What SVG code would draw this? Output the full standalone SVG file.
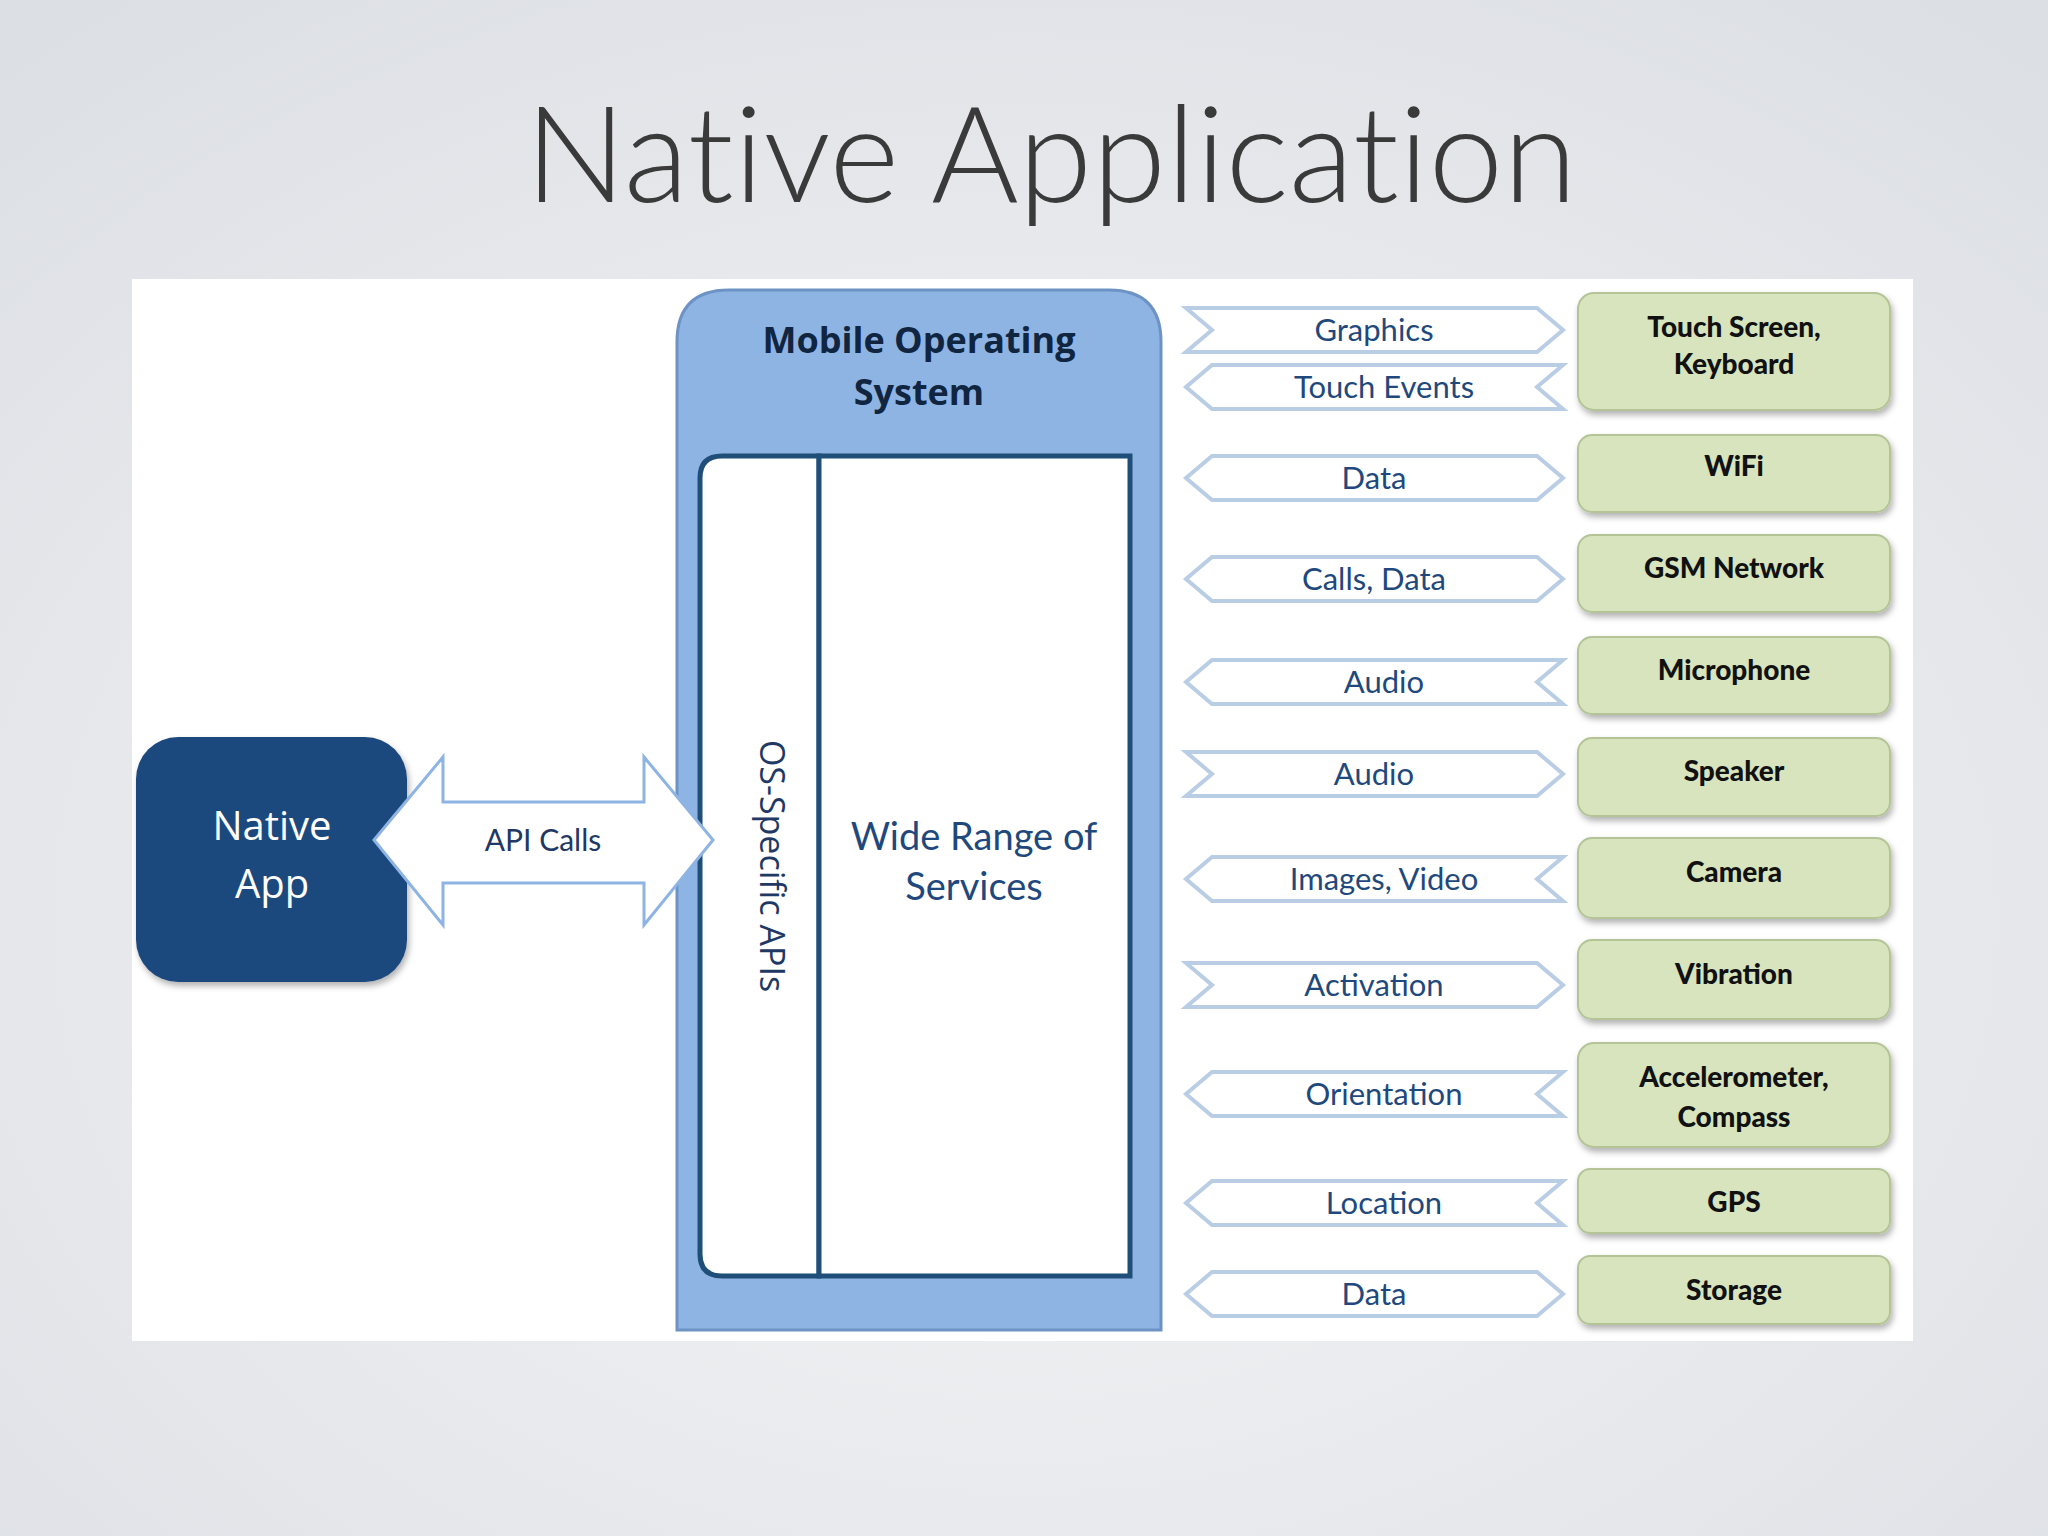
<svg xmlns="http://www.w3.org/2000/svg" xmlns:xlink="http://www.w3.org/1999/xlink" width="2048" height="1536" viewBox="0 0 2048 1536">
<defs>
<radialGradient id="bg" cx="50%" cy="60%" r="75%"><stop offset="0" stop-color="#f6f6f7"/><stop offset="1" stop-color="#dcdfe4"/></radialGradient>
<polygon id="ar" points="1186,-22 1537,-22 1563,0 1537,22 1186,22 1212,0"/>
<polygon id="al" points="1212,-22 1563,-22 1537,0 1563,22 1212,22 1186,0"/>
<polygon id="ad" points="1212,-22 1537,-22 1563,0 1537,22 1212,22 1186,0"/>
<filter id="sh" x="-10%" y="-10%" width="120%" height="130%"><feDropShadow dx="2" dy="4" stdDeviation="3" flood-color="#000" flood-opacity="0.3"/></filter>
</defs>
<style>
.lbl{font-family:Lato,"Open Sans",sans-serif;font-size:31px;fill:#1f497d;text-anchor:middle}
.arr{fill:#fff;stroke:#b9cde5;stroke-width:4}
.g{fill:#d7e4bd;stroke:#b4c497;stroke-width:2;filter:url(#sh)}
.gt{font-family:Lato,"Open Sans",sans-serif;font-weight:900;font-size:28px;fill:#111;text-anchor:middle}
</style>
<rect width="2048" height="1536" fill="url(#bg)"/>
<text x="1051" y="202" text-anchor="middle" font-family="Lato,'Open Sans',sans-serif" font-weight="300" font-size="134" fill="#3a3a3a" style="font-variant-ligatures:none">Native Application</text>
<rect x="132" y="279" width="1781" height="1062" fill="#fff"/>

<g id="os">
<path d="M677,1330 V342 Q677,290 729,290 H1109 Q1161,290 1161,342 V1330 Z" fill="#8eb4e3" stroke="#6d93c4" stroke-width="3"/>
<text x="919" y="353" text-anchor="middle" font-family="'Open Sans',sans-serif" font-weight="bold" font-size="36" fill="#10253f">Mobile  Operating</text>
<text x="919" y="405" text-anchor="middle" font-family="'Open Sans',sans-serif" font-weight="bold" font-size="36" fill="#10253f">System</text>
</g>
<g id="apis">
<path d="M819,456 V1276 H722 Q700,1276 700,1254 V478 Q700,456 722,456 Z" fill="#fff" stroke="#1f4e79" stroke-width="5"/>
<text transform="translate(760,866) rotate(90)" text-anchor="middle" font-family="'Open Sans',sans-serif" font-size="34" fill="#1f3864">OS-Specific APIs</text>
</g>
<g id="services">
<rect x="819" y="456" width="311" height="820" fill="#fff" stroke="#1f4e79" stroke-width="5"/>
<text x="974" y="850" class="lbl" style="font-size:38px">Wide Range of</text>
<text x="974" y="900" class="lbl" style="font-size:38px">Services</text>
</g>
<g id="app">
<rect x="136" y="737" width="271" height="245" rx="42" fill="#1f497d" filter="url(#sh)"/>
<text x="272" y="840" text-anchor="middle" font-family="'Open Sans',sans-serif" font-size="40" fill="#fff">Native</text>
<text x="272" y="898" text-anchor="middle" font-family="'Open Sans',sans-serif" font-size="40" fill="#fff">App</text>
</g>
<g id="connectors">
<polygon points="374,840 443,757 443,802 644,802 644,757 713,840 644,925 644,883 443,883 443,925" fill="#fff" stroke="#8eb4e3" stroke-width="3"/>
<text x="543" y="851" class="lbl" style="fill:#1f3864;font-size:30px">API Calls</text>
<g class="arr">
<use xlink:href="#ar" y="330"/><use xlink:href="#al" y="387"/><use xlink:href="#ad" y="478"/>
<use xlink:href="#ad" y="579"/><use xlink:href="#al" y="682"/><use xlink:href="#ar" y="774"/>
<use xlink:href="#al" y="879"/><use xlink:href="#ar" y="985"/><use xlink:href="#al" y="1094"/>
<use xlink:href="#al" y="1203"/><use xlink:href="#ad" y="1294"/>
</g>
<text class="lbl" x="1374" y="341">Graphics</text>
<text class="lbl" x="1384" y="398">Touch Events</text>
<text class="lbl" x="1374" y="489">Data</text>
<text class="lbl" x="1374" y="590">Calls, Data</text>
<text class="lbl" x="1384" y="693">Audio</text>
<text class="lbl" x="1374" y="785">Audio</text>
<text class="lbl" x="1384" y="890">Images, Video</text>
<text class="lbl" x="1374" y="996">Activation</text>
<text class="lbl" x="1384" y="1105">Orientation</text>
<text class="lbl" x="1384" y="1214">Location</text>
<text class="lbl" x="1374" y="1305">Data</text>
</g>
<g id="touch"><rect class="g" x="1578" y="293" width="312" height="117" rx="16"/><text class="gt" x="1734" y="337">Touch Screen,</text><text class="gt" x="1734" y="374">Keyboard</text></g>
<g id="wifi"><rect class="g" x="1578" y="435" width="312" height="77" rx="14"/><text class="gt" x="1734" y="476">WiFi</text></g>
<g id="gsm"><rect class="g" x="1578" y="535" width="312" height="77" rx="14"/><text class="gt" x="1734" y="578">GSM Network</text></g>
<g id="mic"><rect class="g" x="1578" y="637" width="312" height="77" rx="14"/><text class="gt" x="1734" y="680">Microphone</text></g>
<g id="speaker"><rect class="g" x="1578" y="738" width="312" height="78" rx="14"/><text class="gt" x="1734" y="781">Speaker</text></g>
<g id="camera"><rect class="g" x="1578" y="838" width="312" height="80" rx="14"/><text class="gt" x="1734" y="882">Camera</text></g>
<g id="vibration"><rect class="g" x="1578" y="940" width="312" height="79" rx="14"/><text class="gt" x="1734" y="984">Vibration</text></g>
<g id="accel"><rect class="g" x="1578" y="1043" width="312" height="104" rx="16"/><text class="gt" x="1734" y="1087">Accelerometer,</text><text class="gt" x="1734" y="1127">Compass</text></g>
<g id="gps"><rect class="g" x="1578" y="1169" width="312" height="64" rx="12"/><text class="gt" x="1734" y="1212">GPS</text></g>
<g id="storage"><rect class="g" x="1578" y="1256" width="312" height="68" rx="12"/><text class="gt" x="1734" y="1300">Storage</text></g>
</svg>
